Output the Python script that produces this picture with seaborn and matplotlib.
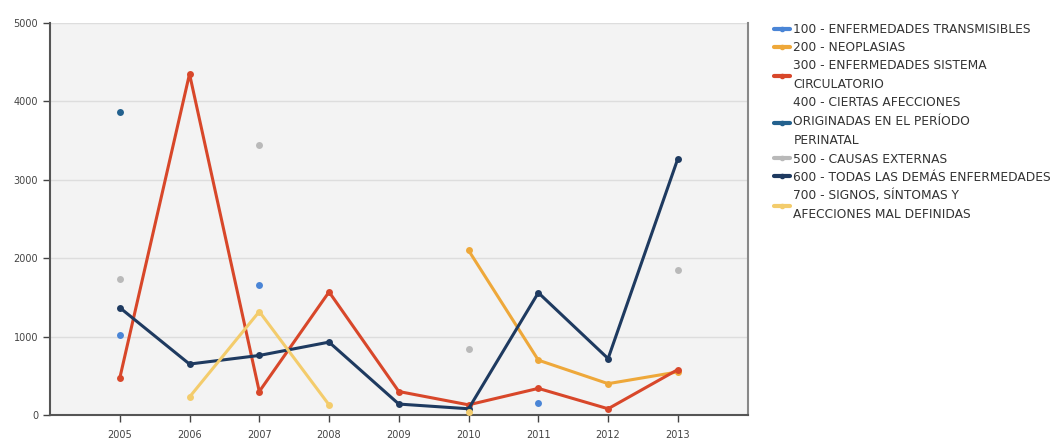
import numpy as np
import pandas as pd
import matplotlib
matplotlib.use('Agg')
import matplotlib.pyplot as plt
from matplotlib.lines import Line2D
import seaborn as sns

# data (NaN = no value that year)
years = [2005, 2006, 2007, 2008, 2009, 2010, 2011, 2012, 2013]
nan = np.nan
causas = ['100 - ENFERMEDADES TRANSMISIBLES',
          '200 - NEOPLASIAS',
          '300 - ENFERMEDADES SISTEMA\nCIRCULATORIO',
          '400 - CIERTAS AFECCIONES\nORIGINADAS EN EL PERÍODO\nPERINATAL',
          '500 - CAUSAS EXTERNAS',
          '600 - TODAS LAS DEMÁS ENFERMEDADES',
          '700 - SIGNOS, SÍNTOMAS Y\nAFECCIONES MAL DEFINIDAS']
v100 = [1020, nan, 1660, nan, nan, nan, 150, nan, nan]
v200 = [nan, nan, nan, nan, nan, 2100, 700, 400, 550]
v300 = [470, 4350, 300, 1570, 300, 130, 340, 80, 580]
v400 = [3870, nan, nan, nan, nan, nan, nan, nan, nan]
v500 = [1730, nan, 3450, nan, nan, 840, nan, nan, 1850]
v600 = [1370, 650, 760, 930, 140, 80, 1560, 720, 3270]
v700 = [nan, 230, 1320, 130, nan, 40, nan, nan, nan]
colores = ['#4a85d6', '#eea83a', '#d8472a', '#23618e', '#b9b9b9', '#1e3a60', '#f3cc6c']

series = [v100, v200, v300, v400, v500, v600, v700]
rows = []
for causa, vals in zip(causas, series):
    seg = 0
    for y, v in zip(years, vals):
        if np.isnan(v):
            seg += 1  # gap -> new line segment
            continue
        rows.append({'year': y, 'value': v, 'causa': causa, 'seg': seg})
df = pd.DataFrame(rows)

sns.set_style('white')
plt.rcParams['font.family'] = ['DejaVu Sans']

fig = plt.figure(figsize=(10.57, 4.42), dpi=100)
ax = fig.add_axes([0.0473, 0.061, 0.66, 0.887])
ax.set_facecolor('#f3f3f3')

pal = dict(zip(causas, colores))
sns.lineplot(data=df, x='year', y='value', hue='causa', units='seg', estimator=None,
             palette=pal, hue_order=causas, marker='o', markersize=5, markeredgewidth=0,
             linewidth=2.2, legend=False, ax=ax, zorder=3)

ax.set_xlim(2004, 2014)
ax.set_ylim(0, 5000)
ax.set_xticks(years)
ax.set_yticks([0, 1000, 2000, 3000, 4000, 5000])
ax.set_xlabel('')
ax.set_ylabel('')
ax.grid(axis='y', color='#dddddd', linewidth=1)
ax.set_axisbelow(True)
ax.tick_params(axis='both', labelsize=7, colors='#444444', length=5, width=1, direction='out',
               left=True, bottom=True)
ax.tick_params(axis='x', pad=6)
for s in ['left', 'bottom', 'right']:
    ax.spines[s].set_color('#555555')
    ax.spines[s].set_linewidth(1.5)
ax.spines['right'].set_color('#888888')
ax.spines['top'].set_visible(False)

handles = [Line2D([], [], color=c, linewidth=3, marker='o', markersize=3) for c in colores]
leg = fig.legend(handles, causas, loc='upper left', bbox_to_anchor=(0.732, 0.948), frameon=False,
                 fontsize=8.8, handlelength=1.3, handletextpad=0.3, labelspacing=0.42,
                 borderpad=0, borderaxespad=0, labelcolor='#333333')
for t in leg.get_texts():
    t.set_linespacing(1.6)

fig.savefig('out.png', dpi=100)
